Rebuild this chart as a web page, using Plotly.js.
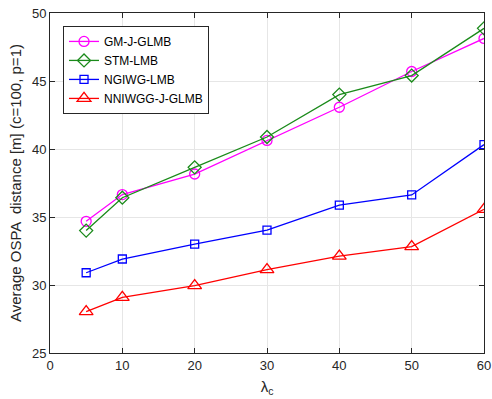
<!DOCTYPE html>
<html><head><meta charset="utf-8">
<script src="https://cdn.plot.ly/plotly-3.0.1.min.js"></script>
<style>html,body{margin:0;padding:0;background:#fff}#c{width:492px;height:399px}</style>
</head><body><div id="c"></div>
<script>
const lambdaC = [5, 10, 20, 30, 40, 50, 60];
const gmJGlmb = [34.68, 36.65, 38.16, 40.63, 43.07, 45.7, 48.13];
const stmLmb = [34.0, 36.42, 38.65, 40.88, 44.0, 45.4, 48.87];
const ngiwgLmb = [30.9, 31.91, 33.0, 34.04, 35.88, 36.62, 40.32];
const nniwggJGlmb = [28.04, 29.09, 29.95, 31.13, 32.13, 32.82, 35.56];
const names = ['GM-J-GLMB', 'STM-LMB', 'NGIWG-LMB', 'NNIWGG-J-GLMB'];
const colors = ['#ff00ff', '#1a8a1a', '#0000ff', '#ff0000'];
const symbols = ['circle-open', 'diamond-open', 'square-open', 'triangle-up-open'];
const sizes = [10, 10, 8, 12];
const series = [gmJGlmb, stmLmb, ngiwgLmb, nniwggJGlmb];
const FONT = 'Liberation Sans, Arial, sans-serif';
const traces = series.map((y, i) => ({
  x: lambdaC, y: y, type: 'scatter', mode: 'lines+markers', name: names[i],
  line: {color: colors[i], width: 1.3},
  marker: {symbol: symbols[i], size: sizes[i], color: colors[i], line: {width: 1.3, color: colors[i]}}
}));
const axBase = {
  showline: true, linecolor: '#262626', linewidth: 1, mirror: 'ticks',
  ticks: 'inside', ticklen: 5, tickcolor: '#262626',
  showgrid: true, gridcolor: '#e6e6e6', gridwidth: 1, zeroline: false,
  tickfont: {family: FONT, size: 13, color: '#262626'}
};
const layout = {
  width: 492, height: 399,
  margin: {l: 50, r: 8, t: 13, b: 46},
  paper_bgcolor: '#fff', plot_bgcolor: '#fff',
  showlegend: true,
  legend: {
    x: 0.03, y: 0.962, xanchor: 'left', yanchor: 'top',
    bgcolor: '#fff', bordercolor: '#262626', borderwidth: 1,
    font: {family: FONT, size: 12, color: '#000'},
    tracegroupgap: 0, itemwidth: 30
  },
  xaxis: Object.assign({}, axBase, {
    range: [0, 60], tickvals: [0, 10, 20, 30, 40, 50, 60],
    title: {text: 'λ<sub>c</sub>', standoff: 9, font: {family: FONT, size: 15, color: '#262626'}}
  }),
  yaxis: Object.assign({}, axBase, {
    range: [25, 50], tickvals: [25, 30, 35, 40, 45, 50],
    title: {text: 'Average OSPA  distance [m] (c=100, p=1)', standoff: 6, font: {family: FONT, size: 15, color: '#262626'}}
  })
};
Plotly.newPlot('c', traces, layout, {displayModeBar: false, staticPlot: true});
</script></body></html>
